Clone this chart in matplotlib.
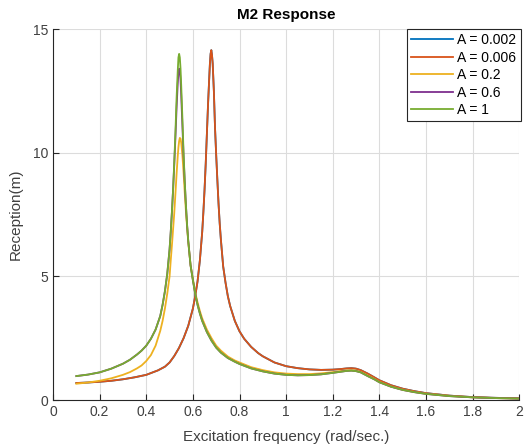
import matplotlib
matplotlib.use("Agg")
import matplotlib.pyplot as plt

plt.rcParams['font.family'] = ['Liberation Sans', 'DejaVu Sans']

# frequency points and response of M2 for each A value
x_high = [0.10, 0.15, 0.20, 0.25, 0.30, 0.35, 0.40, 0.45, 0.48, 0.50,
          0.52, 0.54, 0.56, 0.58, 0.60, 0.61, 0.62, 0.63, 0.64, 0.645,
          0.65, 0.655, 0.66, 0.665, 0.67, 0.673, 0.676, 0.679, 0.682, 0.685,
          0.69, 0.695, 0.70, 0.705, 0.71, 0.715, 0.72, 0.73, 0.74, 0.75,
          0.76, 0.78, 0.80, 0.82, 0.85, 0.88, 0.90, 0.95, 1.00, 1.05,
          1.10, 1.15, 1.20, 1.23, 1.26, 1.28, 1.30, 1.32, 1.35, 1.38,
          1.40, 1.45, 1.50, 1.55, 1.60, 1.70, 1.80, 1.90, 2.00]
y_a0002 = [0.69, 0.71, 0.74, 0.78, 0.84, 0.92, 1.02, 1.2, 1.35, 1.52,
           1.78, 2.1, 2.5, 3.0, 3.7, 4.2, 4.8, 5.65, 6.8, 7.6,
           8.5, 9.55, 10.75, 11.95, 13.0, 13.6, 14.0, 14.15, 13.95, 13.6,
           12.5, 11.0, 9.9, 8.9, 7.95, 7.15, 6.5, 5.4, 4.75, 4.2,
           3.8, 3.2, 2.78, 2.48, 2.15, 1.9, 1.77, 1.52, 1.37, 1.29,
           1.24, 1.22, 1.23, 1.25, 1.28, 1.29, 1.27, 1.21, 1.07, 0.91,
           0.8, 0.6, 0.46, 0.36, 0.28, 0.18, 0.12, 0.09, 0.07]
y_a0006 = [0.69, 0.71, 0.74, 0.78, 0.84, 0.92, 1.02, 1.2, 1.35, 1.52,
           1.78, 2.1, 2.5, 3.0, 3.7, 4.2, 4.8, 5.65, 6.8, 7.6,
           8.5, 9.55, 10.75, 11.95, 13.0, 13.6, 14.0, 14.15, 13.95, 13.6,
           12.5, 11.0, 9.9, 8.9, 7.95, 7.15, 6.5, 5.4, 4.75, 4.2,
           3.8, 3.2, 2.78, 2.48, 2.15, 1.9, 1.77, 1.52, 1.37, 1.29,
           1.24, 1.22, 1.23, 1.25, 1.28, 1.29, 1.27, 1.21, 1.07, 0.91,
           0.8, 0.6, 0.46, 0.36, 0.28, 0.18, 0.12, 0.09, 0.07]

x_low = [0.10, 0.15, 0.20, 0.25, 0.30, 0.33, 0.36, 0.38, 0.40, 0.42,
         0.44, 0.46, 0.47, 0.48, 0.49, 0.50, 0.505, 0.51, 0.515, 0.52,
         0.525, 0.53, 0.535, 0.538, 0.541, 0.544, 0.547, 0.55, 0.555, 0.56,
         0.565, 0.57, 0.575, 0.58, 0.59, 0.60, 0.61, 0.62, 0.63, 0.64,
         0.66, 0.68, 0.70, 0.72, 0.75, 0.78, 0.80, 0.85, 0.90, 0.95,
         1.00, 1.05, 1.10, 1.15, 1.20, 1.23, 1.26, 1.28, 1.30, 1.32,
         1.35, 1.38, 1.40, 1.45, 1.50, 1.55, 1.60, 1.70, 1.80, 1.90,
         2.00]
y_a02 = [0.66, 0.71, 0.78, 0.88, 1.02, 1.13, 1.28, 1.4, 1.58, 1.82,
         2.2, 2.8, 3.2, 3.7, 4.3, 5.0, 5.65, 6.25, 6.9, 7.55,
         8.33, 9.13, 9.86, 10.22, 10.47, 10.6, 10.57, 10.4, 9.9, 9.2,
         8.4, 7.65, 7.0, 6.4, 5.45, 4.9, 4.35, 3.95, 3.6, 3.3,
         2.85, 2.5, 2.2, 2.0, 1.76, 1.6, 1.52, 1.33, 1.21, 1.12,
         1.07, 1.05, 1.05, 1.08, 1.13, 1.17, 1.2, 1.21, 1.19, 1.14,
         1.0, 0.85, 0.74, 0.55, 0.42, 0.33, 0.26, 0.17, 0.11, 0.08,
         0.06]
y_a06 = [0.97, 1.03, 1.12, 1.27, 1.47, 1.63, 1.84, 2.0, 2.2, 2.48,
         2.85, 3.4, 3.85, 4.4, 5.1, 6.1, 6.8, 7.6, 8.5, 9.5,
         10.6, 11.8, 12.8, 13.25, 13.4, 13.3, 12.95, 12.3, 11.1, 9.85,
         8.85, 7.9, 7.1, 6.45, 5.45, 4.85, 4.3, 3.85, 3.5, 3.2,
         2.75, 2.4, 2.12, 1.92, 1.7, 1.55, 1.46, 1.28, 1.16, 1.07,
         1.02, 1.0, 1.01, 1.04, 1.1, 1.14, 1.18, 1.19, 1.17, 1.12,
         0.97, 0.83, 0.72, 0.54, 0.41, 0.32, 0.25, 0.16, 0.11, 0.08,
         0.06]
y_a1 = [0.97, 1.03, 1.12, 1.27, 1.47, 1.63, 1.84, 2.0, 2.2, 2.48,
        2.85, 3.4, 3.85, 4.4, 5.1, 6.1, 6.8, 7.6, 8.5, 9.6,
        10.8, 12.2, 13.3, 13.85, 14.0, 13.85, 13.4, 12.7, 11.4, 10.0,
        8.85, 7.9, 7.1, 6.45, 5.45, 4.85, 4.3, 3.85, 3.5, 3.2,
        2.75, 2.4, 2.12, 1.92, 1.7, 1.55, 1.46, 1.28, 1.16, 1.07,
        1.02, 1.0, 1.01, 1.04, 1.1, 1.14, 1.18, 1.19, 1.17, 1.12,
        0.97, 0.83, 0.72, 0.54, 0.41, 0.32, 0.25, 0.16, 0.11, 0.08,
        0.06]

labels = ['A = 0.002', 'A = 0.006', 'A = 0.2', 'A = 0.6', 'A = 1']
colors = ['#0072BD', '#D95319', '#EDB120', '#7E2F8E', '#77AC30']

xticks = [0, 0.2, 0.4, 0.6, 0.8, 1, 1.2, 1.4, 1.6, 1.8, 2]
xtick_labels = ['0', '0.2', '0.4', '0.6', '0.8', '1', '1.2', '1.4', '1.6', '1.8', '2']
yticks = [0, 5, 10, 15]

fig = plt.figure(figsize=(5.25, 4.48), dpi=100)
ax = fig.add_axes([0.101, 0.107, 0.888, 0.828])

series = [(x_high, y_a0002), (x_high, y_a0006), (x_low, y_a02),
          (x_low, y_a06), (x_low, y_a1)]
for (xs, ys), lab, c in zip(series, labels, colors):
    ax.plot(xs, ys, color=c, linewidth=1.3, label=lab)

ax.set_xlim(0, 2)
ax.set_ylim(0, 15)
ax.set_xticks(xticks)
ax.set_xticklabels(xtick_labels)
ax.set_yticks(yticks)
ax.grid(True, color='#dcdcdc', linewidth=0.8)
ax.set_axisbelow(True)

for side in ['top', 'right']:
    ax.spines[side].set_visible(False)
for side in ['left', 'bottom']:
    ax.spines[side].set_color('#262626')
    ax.spines[side].set_linewidth(0.8)
ax.tick_params(direction='in', length=4, width=0.8, colors='#262626',
               labelsize=10, labelcolor='#404040')

ax.set_title('M2 Response', fontsize=11, fontweight='bold', color='#000000', pad=7)
ax.set_xlabel('Excitation frequency (rad/sec.)', fontsize=11, color='#404040',
              labelpad=8)
ax.set_ylabel('Reception(m)', fontsize=11, color='#404040', labelpad=7)

leg = ax.legend(loc='upper right', bbox_to_anchor=(1.003, 1.0), borderaxespad=0,
                fancybox=False, framealpha=1, edgecolor='#262626', fontsize=10,
                handlelength=3.0, handletextpad=0.3, labelspacing=0.25,
                borderpad=0.3)
leg.get_frame().set_linewidth(0.8)

fig.savefig('out.png', dpi=100)
